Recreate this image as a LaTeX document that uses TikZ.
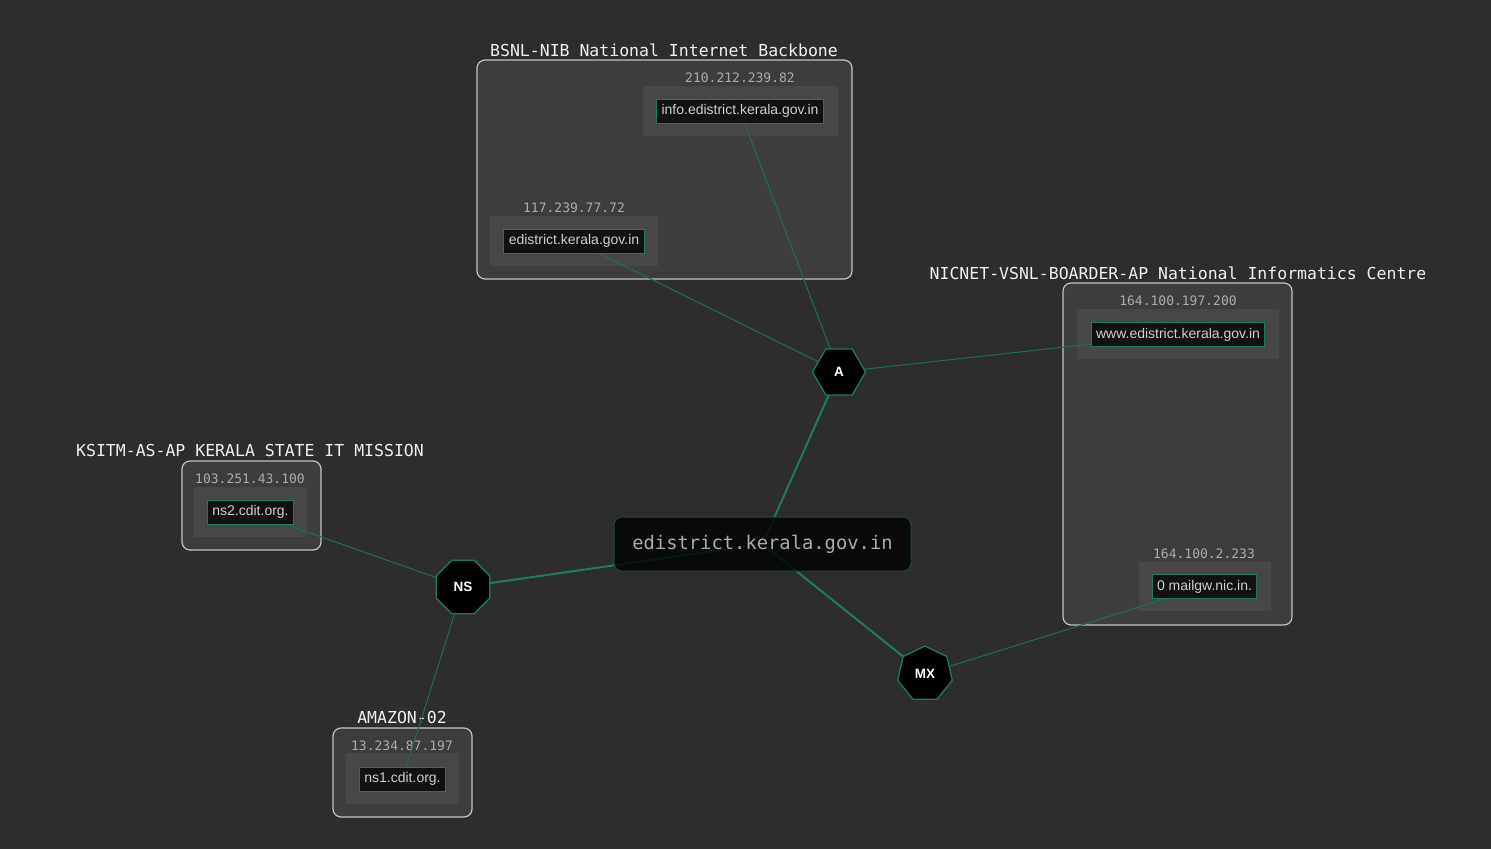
\documentclass[tikz,border=0pt]{standalone}
\usepackage{fontspec}
\setmainfont{Liberation Sans}
\newfontfamily\monof{DejaVu Sans Mono}
\usetikzlibrary{shapes.geometric}
\pgfdeclarelayer{bgl}
\pgfdeclarelayer{groups}
\pgfdeclarelayer{edges}
\pgfsetlayers{bgl,groups,edges,main}
\definecolor{bgc}{HTML}{2D2D2D}
\definecolor{grpfill}{HTML}{3D3D3D}
\definecolor{grpline}{HTML}{C4C4C4}
\definecolor{ipfill}{HTML}{474747}
\definecolor{edgec}{HTML}{1F7A5C}
\definecolor{thinc}{HTML}{1E6E54}
\definecolor{domfill}{HTML}{111111}
\definecolor{domline}{HTML}{1F7A5C}
\definecolor{domtext}{HTML}{CFCFCF}
\definecolor{iptext}{HTML}{ABABAB}
\definecolor{titletext}{HTML}{F0F0F0}
\definecolor{ctrline}{HTML}{1B4A3B}
\tikzset{
  x=1pt, y=-1pt,
  grpbox/.style={draw=grpline, line width=1.2pt, fill=grpfill, rounded corners=8pt, inner sep=0pt},
  ipbox/.style={fill=ipfill, inner sep=0pt},
  grptitle/.style={font=\monof\fontsize{16.5}{18}\selectfont, text=titletext, inner sep=0pt, anchor=base},
  iplabel/.style={font=\monof\fontsize{13}{15}\selectfont, text=iptext, inner sep=0pt},
  dombox/.style={draw=domline, line width=1pt, fill=domfill, text=domtext, font=\fontsize{14}{16}\selectfont, inner xsep=5pt, inner ysep=0pt, minimum height=24pt},
  recnode/.style={regular polygon, draw=edgec, line width=1.3pt, fill=black, text=white, font=\bfseries\fontsize{13.5}{15}\selectfont, inner sep=0pt},
  thickedge/.style={draw=edgec, line width=2pt},
  thinedge/.style={draw=thinc, line width=1pt},
}
\begin{document}
\begin{tikzpicture}
\begin{pgfonlayer}{bgl}
\fill[bgc] (0,0) rectangle (1491,849);
\end{pgfonlayer}
\useasboundingbox (0,0) rectangle (1491,849);

\begin{pgfonlayer}{groups}
% group boxes
\node[grpbox, minimum width=375pt, minimum height=219pt] (gbsnl) at (664.5,169.5) {};
\node[grpbox, minimum width=229pt, minimum height=342pt] (gnic) at (1177.5,454) {};
\node[grpbox, minimum width=139pt, minimum height=89pt] (gksitm) at (251.5,505.5) {};
\node[grpbox, minimum width=139pt, minimum height=89pt] (gamazon) at (402.5,772.5) {};
% group titles
\node[grptitle] (tbsnl) at (664,56) {BSNL-NIB National Internet Backbone};
\node[grptitle] (tnic) at (1178,279) {NICNET-VSNL-BOARDER-AP National Informatics Centre};
\node[grptitle] (tksitm) at (250,456) {KSITM-AS-AP KERALA STATE IT MISSION};
\node[grptitle] (tamazon) at (402,723) {AMAZON-02};
% ip boxes
\node[ipbox, minimum width=195pt, minimum height=50pt] (ipinfo) at (740.5,111) {};
\node[ipbox, minimum width=168pt, minimum height=50pt] (ipedis) at (574,241) {};
\node[ipbox, minimum width=202pt, minimum height=50pt] (ipwww) at (1178,334) {};
\node[ipbox, minimum width=132pt, minimum height=49pt] (ipmail) at (1205,586.5) {};
\node[ipbox, minimum width=113pt, minimum height=50pt] (ipns2) at (250.5,512) {};
\node[ipbox, minimum width=113pt, minimum height=51pt] (ipns1) at (402.5,778.5) {};
% ip labels
\node[iplabel] (linfo) at (740,78) {210.212.239.82};
\node[iplabel] (ledis) at (574,208) {117.239.77.72};
\node[iplabel] (lwww) at (1178,301) {164.100.197.200};
\node[iplabel] (lmail) at (1204,554) {164.100.2.233};
\node[iplabel] (lns2) at (250,479) {103.251.43.100};
\node[iplabel] (lns1) at (402,746) {13.234.87.197};
\end{pgfonlayer}

% domain nodes
\node[dombox] (info) at (740,111) {info.edistrict.kerala.gov.in};
\node[dombox] (edis) at (574,241) {edistrict.kerala.gov.in};
\node[dombox] (www) at (1178,334.5) {www.edistrict.kerala.gov.in};
\node[dombox] (mail) at (1204.5,586.5) {0 mailgw.nic.in.};
\node[dombox] (ns2) at (250.5,512) {ns2.cdit.org.};
\node[dombox] (ns1) at (402.5,779) {ns1.cdit.org.};

% center node
\node[draw=ctrline, line width=1pt, fill=black, fill opacity=0.8, text opacity=1, rounded corners=8pt,
      minimum width=297pt, minimum height=54pt, inner sep=0pt, text=iptext,
      font=\monof\fontsize{18.8}{20}\selectfont] (ctr) at (762.5,544) {edistrict.kerala.gov.in};

% record nodes
\node[recnode, regular polygon sides=6, minimum size=53pt] (A) at (839,372) {A};
\node[recnode, regular polygon sides=8, minimum size=58pt] (NS) at (463,587) {NS};
\node[recnode, regular polygon sides=7, minimum size=56pt] (MX) at (925,674) {MX};

\begin{pgfonlayer}{edges}
\draw[thickedge] (ctr.center) -- (A.center);
\draw[thickedge] (ctr.center) -- (NS.center);
\draw[thickedge] (ctr.center) -- (MX.center);
\draw[thinedge] (A.center) -- (info.center);
\draw[thinedge] (A.center) -- (edis.center);
\draw[thinedge] (A.center) -- (www.center);
\draw[thinedge] (NS.center) -- (ns2.center);
\draw[thinedge] (NS.center) -- (ns1.center);
\draw[thinedge] (MX.center) -- (mail.center);
\end{pgfonlayer}
\end{tikzpicture}
\end{document}
